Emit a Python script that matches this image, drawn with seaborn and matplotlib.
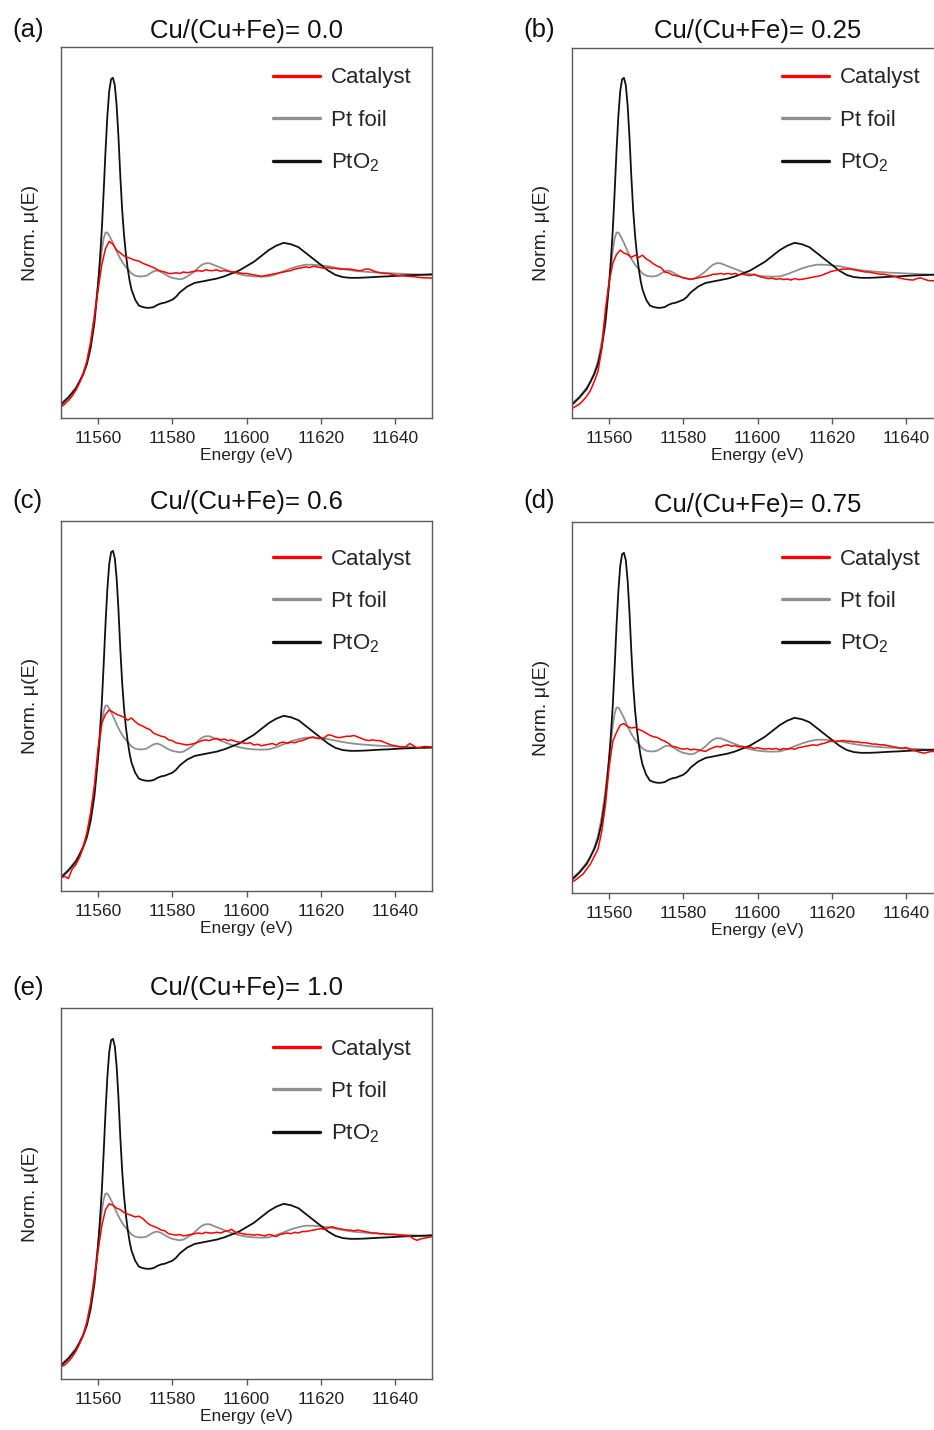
import numpy as np
import pandas as pd
import matplotlib
matplotlib.use("Agg")
import matplotlib.pyplot as plt
import seaborn as sns

sns.set_style("white")
plt.rcParams['font.family'] = ['Liberation Sans', 'DejaVu Sans']
plt.rcParams['mathtext.default'] = 'regular'

# ---------------- data ----------------
titles = ["Cu/(Cu+Fe)= 0.0", "Cu/(Cu+Fe)= 0.25", "Cu/(Cu+Fe)= 0.6",
          "Cu/(Cu+Fe)= 0.75", "Cu/(Cu+Fe)= 1.0"]
panel_labels = ["(a)", "(b)", "(c)", "(d)", "(e)"]
series_names = ["Catalyst", "Pt foil", "PtO$_2$"]
xticks = [11560, 11580, 11600, 11620, 11640]

E_foil = [11550, 11552, 11554, 11555, 11556, 11557, 11558, 11559, 11560, 11561,
          11561.5, 11562, 11562.5, 11563, 11564, 11565, 11566, 11567, 11568, 11569,
          11570, 11571, 11572, 11573, 11574, 11575, 11576, 11577, 11578, 11579,
          11580, 11581, 11582, 11583, 11584, 11585, 11586, 11587, 11588, 11589,
          11590, 11591, 11592, 11594, 11596, 11598, 11600, 11602, 11604, 11606,
          11608, 11610, 11612, 11614, 11616, 11618, 11620, 11622, 11624, 11626,
          11628, 11630, 11632, 11634, 11636, 11638, 11640, 11642, 11644, 11646,
          11648, 11650]
mu_foil = [0.10, 0.145, 0.21, 0.25, 0.31, 0.39, 0.52, 0.70, 0.92, 1.15,
           1.23, 1.27, 1.27, 1.25, 1.20, 1.14, 1.09, 1.05, 1.02, 0.99,
           0.975, 0.97, 0.97, 0.975, 0.99, 1.005, 1.01, 1.0, 0.985, 0.97,
           0.96, 0.955, 0.95, 0.955, 0.97, 0.985, 1.005, 1.03, 1.05, 1.06,
           1.06, 1.05, 1.04, 1.02, 1.0, 0.985, 0.975, 0.97, 0.968, 0.97,
           0.985, 1.005, 1.025, 1.04, 1.05, 1.05, 1.045, 1.04, 1.03, 1.02,
           1.012, 1.006, 1.002, 0.998, 0.995, 0.993, 0.99, 0.988, 0.985, 0.983,
           0.98, 0.978]

E_pto2 = [11550, 11552, 11554, 11555, 11556, 11557, 11558, 11559, 11559.5, 11560,
          11560.5, 11561, 11561.5, 11562, 11562.5, 11563, 11563.5, 11564, 11564.5, 11565,
          11565.5, 11566, 11566.5, 11567, 11567.5, 11568, 11568.5, 11569, 11570, 11571,
          11572, 11573, 11574, 11575, 11576, 11577, 11578, 11579, 11580, 11581,
          11582, 11583, 11584, 11586, 11588, 11590, 11592, 11594, 11596, 11598,
          11600, 11602, 11604, 11606, 11608, 11610, 11612, 11614, 11616, 11618,
          11620, 11622, 11624, 11626, 11628, 11630, 11632, 11634, 11636, 11638,
          11640, 11642, 11644, 11646, 11648, 11650]
mu_pto2 = [0.09, 0.14, 0.20, 0.25, 0.30, 0.37, 0.48, 0.65, 0.78, 0.92,
           1.09, 1.29, 1.55, 1.83, 2.07, 2.24, 2.32, 2.33, 2.28, 2.14,
           1.92, 1.65, 1.42, 1.25, 1.12, 1.02, 0.94, 0.88, 0.81, 0.77,
           0.76, 0.755, 0.755, 0.76, 0.775, 0.785, 0.79, 0.80, 0.81, 0.83,
           0.86, 0.88, 0.90, 0.925, 0.935, 0.945, 0.955, 0.97, 0.99, 1.01,
           1.04, 1.07, 1.11, 1.15, 1.18, 1.20, 1.19, 1.17, 1.13, 1.09,
           1.05, 1.01, 0.98, 0.965, 0.96, 0.96, 0.962, 0.965, 0.968, 0.97,
           0.973, 0.976, 0.978, 0.98, 0.982, 0.985]

E_cat = np.arange(11550, 11651, 1)

cat_a = [0.075, 0.095, 0.12, 0.15, 0.19, 0.24, 0.30, 0.39, 0.52, 0.69,
         0.88, 1.05, 1.16, 1.21, 1.19, 1.15, 1.13, 1.11, 1.10, 1.09,
         1.08, 1.075, 1.06, 1.05, 1.04, 1.03, 1.015, 1.005, 1.0, 0.99,
         0.99, 0.995, 0.99, 1.0, 0.995, 1.0, 1.005, 1.01, 1.005, 1.015,
         1.01, 1.01, 1.015, 1.005, 1.01, 1.005, 1.0, 1.0, 0.995, 0.99,
         0.99, 0.985, 0.98, 0.975, 0.97, 0.975, 0.98, 0.985, 0.99, 0.995,
         1.0, 1.005, 1.01, 1.02, 1.025, 1.03, 1.035, 1.03, 1.04, 1.035,
         1.03, 1.025, 1.03, 1.025, 1.025, 1.02, 1.02, 1.02, 1.02, 1.015,
         1.01, 1.01, 1.02, 1.02, 1.01, 1.0, 0.995, 0.99, 0.99, 0.985,
         0.98, 0.975, 0.975, 0.972, 0.97, 0.968, 0.965, 0.962, 0.96, 0.96,
         0.958]
cat_b = [0.065, 0.08, 0.095, 0.12, 0.15, 0.19, 0.25, 0.32, 0.47, 0.74,
         0.93, 1.06, 1.12, 1.15, 1.13, 1.12, 1.10, 1.115, 1.10, 1.115,
         1.09, 1.075, 1.055, 1.04, 1.03, 1.0, 0.995, 0.98, 0.975, 0.97,
         0.96, 0.955, 0.95, 0.955, 0.96, 0.965, 0.97, 0.975, 0.985, 0.985,
         0.99, 0.985, 0.99, 0.985, 0.99, 0.98, 0.985, 0.98, 0.975, 0.985,
         0.975, 0.965, 0.96, 0.955, 0.958, 0.95, 0.955, 0.948, 0.952, 0.945,
         0.955, 0.948, 0.95, 0.955, 0.96, 0.965, 0.97, 0.975, 0.985, 0.995,
         1.005, 1.01, 1.015, 1.02, 1.02, 1.02, 1.015, 1.01, 1.005, 1.0,
         1.0, 0.995, 0.99, 0.985, 0.985, 0.98, 0.975, 0.97, 0.96, 0.955,
         0.95, 0.947, 0.945, 0.955, 0.96, 0.95, 0.942, 0.94, 0.94, 0.942,
         0.94]
cat_c = [0.09, 0.10, 0.085, 0.15, 0.18, 0.23, 0.30, 0.40, 0.54, 0.72,
         0.98, 1.15, 1.21, 1.24, 1.225, 1.21, 1.20, 1.19, 1.17, 1.185,
         1.16, 1.14, 1.13, 1.115, 1.105, 1.08, 1.07, 1.06, 1.055, 1.035,
         1.03, 1.015, 1.01, 1.005, 1.0, 1.005, 1.01, 1.02, 1.03, 1.035,
         1.03, 1.04, 1.045, 1.035, 1.04, 1.03, 1.035, 1.025, 1.02, 1.015,
         1.01, 1.015, 1.0, 1.005, 0.995, 1.0, 1.005, 1.01, 1.0, 1.015,
         1.02, 1.01, 1.02, 1.015, 1.025, 1.03, 1.04, 1.05, 1.055, 1.045,
         1.045, 1.05, 1.07, 1.065, 1.055, 1.05, 1.055, 1.06, 1.06, 1.065,
         1.055, 1.045, 1.035, 1.03, 1.035, 1.03, 1.03, 1.02, 1.01, 1.0,
         0.995, 0.99, 0.985, 0.99, 1.01, 0.995, 0.98, 0.985, 0.99, 0.988,
         0.985]
cat_d = [0.075, 0.09, 0.11, 0.13, 0.165, 0.20, 0.25, 0.30, 0.42, 0.60,
         0.86, 1.04, 1.10, 1.15, 1.16, 1.14, 1.13, 1.135, 1.12, 1.11,
         1.095, 1.08, 1.07, 1.065, 1.05, 1.04, 1.025, 1.005, 1.0, 0.99,
         0.985, 0.99, 0.98, 0.985, 0.98, 0.975, 0.97, 0.985, 0.995, 1.005,
         1.0, 1.01, 1.015, 1.005, 1.01, 1.0, 1.005, 0.995, 1.0, 0.99,
         0.995, 0.99, 0.985, 0.99, 0.985, 0.99, 0.98, 0.99, 0.985, 0.99,
         0.985, 0.995, 1.0, 1.005, 1.01, 1.015, 1.01, 1.02, 1.025, 1.035,
         1.04, 1.035, 1.04, 1.045, 1.04, 1.04, 1.035, 1.035, 1.03, 1.03,
         1.025, 1.02, 1.02, 1.015, 1.015, 1.01, 1.005, 1.0, 0.995, 0.99,
         0.997, 0.985, 0.977, 0.97, 0.962, 0.958, 0.965, 0.97, 0.968, 0.965,
         0.965]
cat_e = [0.085, 0.095, 0.12, 0.15, 0.19, 0.24, 0.30, 0.39, 0.52, 0.69,
         0.88, 1.05, 1.16, 1.20, 1.19, 1.17, 1.16, 1.14, 1.13, 1.12,
         1.11, 1.115, 1.10, 1.075, 1.055, 1.045, 1.035, 1.02, 1.015, 0.995,
         0.99, 0.985, 0.99, 0.98, 0.985, 0.99, 0.995, 1.0, 0.995, 1.005,
         1.0, 1.0, 1.005, 1.0, 1.01, 1.015, 1.025, 1.005, 1.0, 0.995,
         0.99, 0.99, 0.985, 0.99, 0.985, 0.98, 0.99, 0.985, 0.975, 0.99,
         0.995, 1.0, 0.995, 1.005, 1.0, 1.01, 1.01, 1.015, 1.02, 1.025,
         1.03, 1.025, 1.035, 1.043, 1.035, 1.03, 1.025, 1.02, 1.02, 1.015,
         1.02, 1.015, 1.01, 1.005, 1.0, 1.0, 0.995, 0.995, 0.99, 0.99,
         0.99, 0.985, 0.985, 0.98, 0.98, 0.96, 0.95, 0.96, 0.965, 0.97,
         0.975]
catalyst = [cat_a, cat_b, cat_c, cat_d, cat_e]

# ---------------- layout (pixels in a 934x1430 canvas) ----------------
W, H = 934, 1430
# (left, top, bottom) of each axes frame
frames = [(61, 47, 418), (572, 48, 418), (61, 521, 891), (572, 522, 893), (61, 1008, 1379)]
AX_W = 371
title_baseline = [38, 38, 509, 512, 995]
label_pos = [(12, 37), (523, 37), (12, 508), (523, 508), (12, 995)]
legend_row1 = [78, 78, 559, 559, 1049]
legend_x = [273, 782, 273, 782, 273]

RED, GREY, BLACK = "#ff0000", "#8f8f8f", "#111111"
SPINE = "#5a5a5a"

fig = plt.figure(figsize=(W / 100, H / 100), dpi=100)

for i in range(5):
    left, top, bottom = frames[i]
    ax = fig.add_axes([left / W, 1 - bottom / H, AX_W / W, (bottom - top) / H])
    sns.lineplot(x=E_foil, y=mu_foil, ax=ax, color=GREY, lw=1.3,
                 label=series_names[1], estimator=None, sort=False, legend=False)
    sns.lineplot(x=E_pto2, y=mu_pto2, ax=ax, color=BLACK, lw=1.3,
                 label=series_names[2], estimator=None, sort=False, legend=False)
    sns.lineplot(x=E_cat, y=catalyst[i], ax=ax, color=RED, lw=1.1,
                 label=series_names[0], estimator=None, sort=False, legend=False)

    ax.set_xlim(11550, 11650)
    ax.set_ylim(0, (bottom - top) / 146.0)
    ax.set_yticks([])
    ax.set_xticks(xticks)
    ax.tick_params(axis='x', direction='out', length=4.5, width=1.0, color=SPINE,
                   pad=4.8, labelsize=12.5, labelcolor='#222222', bottom=True)
    for s in ax.spines.values():
        s.set_color(SPINE)
        s.set_linewidth(1.0)
    ax.set_xlabel("Energy (eV)", fontsize=12.5, labelpad=1.5, color='#222222')
    ax.set_ylabel("Norm. μ(E)", fontsize=14, labelpad=16, color='#222222')
    pad_pt = (top - title_baseline[i]) * 0.72
    ax.set_title(titles[i], fontsize=18.5, pad=pad_pt, color='#111111')

    handles, labels = ax.get_legend_handles_labels()
    order = [labels.index(n) for n in series_names]
    row_top = legend_row1[i] - 10.5
    leg = ax.legend([handles[k] for k in order], [labels[k] for k in order],
                    loc='upper left',
                    bbox_to_anchor=((legend_x[i] - left) / AX_W,
                                    (bottom - row_top) / (bottom - top)),
                    frameon=False, fontsize=16, handlelength=2.1,
                    handletextpad=0.5, labelspacing=0.95, borderpad=0,
                    borderaxespad=0)
    for ln in leg.get_lines():
        ln.set_linewidth(2.4)

    fig.text(label_pos[i][0] / W, 1 - label_pos[i][1] / H, panel_labels[i],
             fontsize=18.5, va='baseline', ha='left', color='#111111')

fig.savefig("out.png", dpi=100)
